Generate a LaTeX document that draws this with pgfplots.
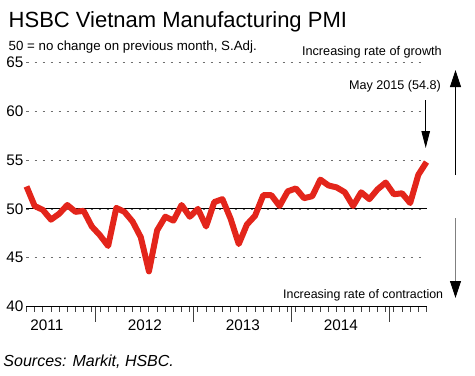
\documentclass[border=0pt]{standalone}
\usepackage{fontspec}
\setmainfont{Liberation Sans}
\usepackage{pgfplots}
\pgfplotsset{compat=1.18}
\usetikzlibrary{arrows.meta}
\definecolor{pmired}{RGB}{227,37,27}
\definecolor{gridgray}{RGB}{110,110,110}
\pgfplotstableread{
i v
0 52.3
1 50.3
2 49.9
3 48.9
4 49.5
5 50.4
6 49.7
7 49.8
8 48.2
9 47.3
10 46.2
11 50.1
12 49.7
13 48.7
14 47.1
15 43.6
16 47.8
17 49.2
18 48.8
19 50.4
20 49.2
21 50.0
22 48.2
23 50.7
24 51.0
25 49.0
26 46.4
27 48.4
28 49.3
29 51.4
30 51.4
31 50.3
32 51.8
33 52.1
34 51.1
35 51.3
36 53.0
37 52.4
38 52.2
39 51.7
40 50.3
41 51.7
42 51.0
43 52.0
44 52.7
45 51.5
46 51.6
47 50.6
48 53.5
49 54.8
}\pmidata
\begin{document}
\begin{tikzpicture}
\useasboundingbox (0,0) rectangle (475bp,-376bp);
\begin{axis}[
  at={(26.5bp,-306.5bp)}, anchor=south west,
  scale only axis, width=400bp, height=244bp,
  xmin=0, xmax=49, ymin=40, ymax=65,
  clip=false,
  axis x line*=bottom, axis y line*=left,
  x axis line style={-, line width=0.9bp, black},
  y axis line style={draw=none},
  tick align=outside,
  ytick={40,45,50,55,60,65},
  ytick style={draw=none},
  ymajorgrids,
  grid style={gridgray, line width=0.8bp, dash pattern=on 2.7bp off 5.3bp},
  xtick={8.5,20.5,32.5,44.5},
  xticklabels={},
  major tick length=15bp,
  minor tick length=5bp,
  minor xtick={0,...,49},
  xtick style={line width=0.9bp, black!75},
  extra x ticks={2.5,14.5,26.5,38.5},
  extra x tick labels={2011,2012,2013,2014},
  extra x tick style={xtick style={draw=none}},
  /pgf/number format/assume math mode=true,
  xticklabel style={font=\fontsize{15.3bp}{17bp}\selectfont, inner sep=0pt, yshift=2bp},
  yticklabel style={font=\fontsize{15.3bp}{17bp}\selectfont, inner sep=0pt, xshift=12bp},
]
\addplot[black, line width=0.9bp] coordinates {(0,50) (49,50)};
\addplot[pmired, line width=6bp, line join=round] table[x=i, y=v] {\pmidata};
\end{axis}
\node[anchor=base west, inner sep=0, font=\fontsize{22bp}{24bp}\selectfont] at (8.5bp,-27.7bp) {HSBC Vietnam Manufacturing PMI};
\node[anchor=base west, inner sep=0, font=\fontsize{13.3bp}{15bp}\selectfont] at (8.5bp,-50bp) {50 = no change on previous month, S.Adj.};
\node[anchor=base east, inner sep=0, font=\fontsize{12.7bp}{14bp}\selectfont] at (442bp,-55.3bp) {Increasing rate of growth};
\node[anchor=base east, inner sep=0, font=\fontsize{12.6bp}{14bp}\selectfont] at (441bp,-89.3bp) {May 2015 (54.8)};
\node[anchor=base east, inner sep=0, font=\fontsize{12.4bp}{14bp}\selectfont] at (443.3bp,-298.3bp) {Increasing rate of contraction};
\node[anchor=base west, inner sep=0, font=\fontsize{16bp}{18bp}\selectfont\itshape] at (3.3bp,-366.7bp) {Sources: Markit, HSBC.};
\draw[line width=0.9bp, -{Triangle[width=11bp,length=17bp]}] (455.5bp,-175bp) -- (455.5bp,-70bp);
\draw[line width=0.9bp, gray, -{Triangle[width=11bp,length=17bp,color=black]}] (455.5bp,-218bp) -- (455.5bp,-298bp);
\draw[line width=0.9bp, -{Triangle[width=8.5bp,length=17bp]}] (425.7bp,-100bp) -- (425.7bp,-148bp);
\end{tikzpicture}
\end{document}
